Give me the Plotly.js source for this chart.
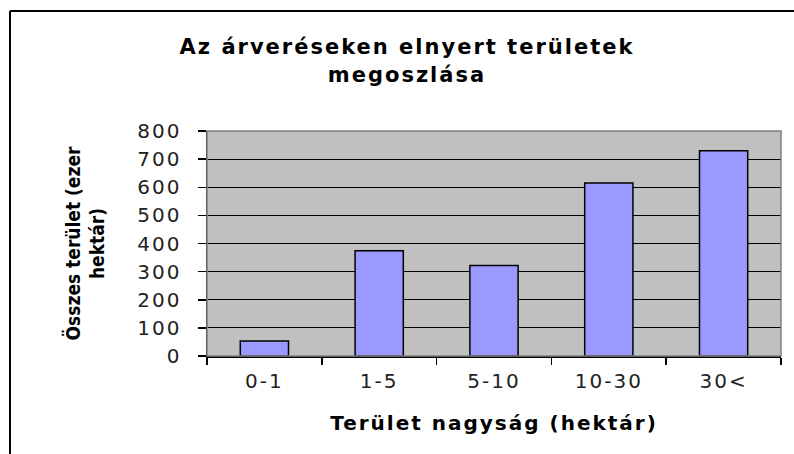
<!DOCTYPE html>
<html>
<head>
<meta charset="utf-8">
<script src="https://cdn.plot.ly/plotly-3.0.1.min.js"></script>
<style>
html,body{margin:0;padding:0;background:#fff;}
.gtitle, .xtitle { letter-spacing: 2px; }
.xtick text, .ytick text { letter-spacing: 2px; }
</style>
</head>
<body>
<div id="chart" style="width:794px;height:454px;"></div>
<script>
const categories = ["0-1", "1-5", "5-10", "10-30", "30<"];
const values = [53, 374, 322, 615, 730];
const yTicks = [0, 100, 200, 300, 400, 500, 600, 700, 800];

const trace = {
  type: "bar",
  x: categories,
  y: values,
  width: 0.42,
  marker: {color: "#9999ff", line: {color: "#000", width: 1.5}},
  hoverinfo: "skip"
};

const layout = {
  width: 794, height: 454,
  margin: {l: 207, r: 13, t: 131, b: 98, pad: 0},
  paper_bgcolor: "#fff",
  plot_bgcolor: "#c0c0c0",
  showlegend: false,
  font: {family: "DejaVu Sans, Verdana, sans-serif", color: "#000"},
  title: {
    text: "<b>Az árveréseken elnyert területek<br>megoszlása</b>",
    font: {size: 21, family: "DejaVu Sans, Verdana, sans-serif", color: "#000"},
    x: 407/794, xanchor: "center", xref: "container",
    y: 0.88, yanchor: "top", yref: "container"
  },
  xaxis: {
    type: "category",
    range: [-0.5, 4.5],
    showgrid: false,
    showline: true, linecolor: "#000", linewidth: 1.5,
    ticks: "outside", ticklen: 7, tickwidth: 1.5, tickcolor: "#000",
    tickson: "boundaries",
    ticklabelstandoff: 6,
    tickfont: {size: 20, color: "#222"},
    title: {text: "<b>Terület nagyság (hektár)</b>", font: {size: 20, color: "#000"}, standoff: 24},
    zeroline: false
  },
  yaxis: {
    range: [0, 800],
    tickvals: yTicks,
    ticktext: yTicks.map(String),
    showgrid: true, gridcolor: "#000", gridwidth: 1.2,
    showline: true, linecolor: "#000", linewidth: 1.5,
    ticks: "outside", ticklen: 8, tickwidth: 1.5, tickcolor: "#000",
    ticklabelstandoff: 12,
    tickfont: {size: 20, color: "#222"},
    title: {text: "<b>Összes terület (ezer<br>hektár)</b>", font: {size: 19, family: "DejaVu Sans Condensed, DejaVu Sans, sans-serif", color: "#000"}, standoff: 27},
    zeroline: false
  },
  shapes: [
    {type: "rect", xref: "paper", yref: "paper", x0: 0, x1: 1, y0: 0, y1: 1,
     line: {color: "#808080", width: 1.5}, layer: "above"},
    {type: "line", xref: "paper", yref: "paper", x0: -0.3432, x1: 1.03, y0: 1.5333, y1: 1.5333,
     line: {color: "#000", width: 2}, layer: "above"},
    {type: "line", xref: "paper", yref: "paper", x0: -0.3432, x1: -0.3432, y0: 1.5333, y1: -0.45,
     line: {color: "#000", width: 2}, layer: "above"}
  ]
};

Plotly.newPlot("chart", [trace], layout, {displayModeBar: false, staticPlot: true});
</script>
</body>
</html>
